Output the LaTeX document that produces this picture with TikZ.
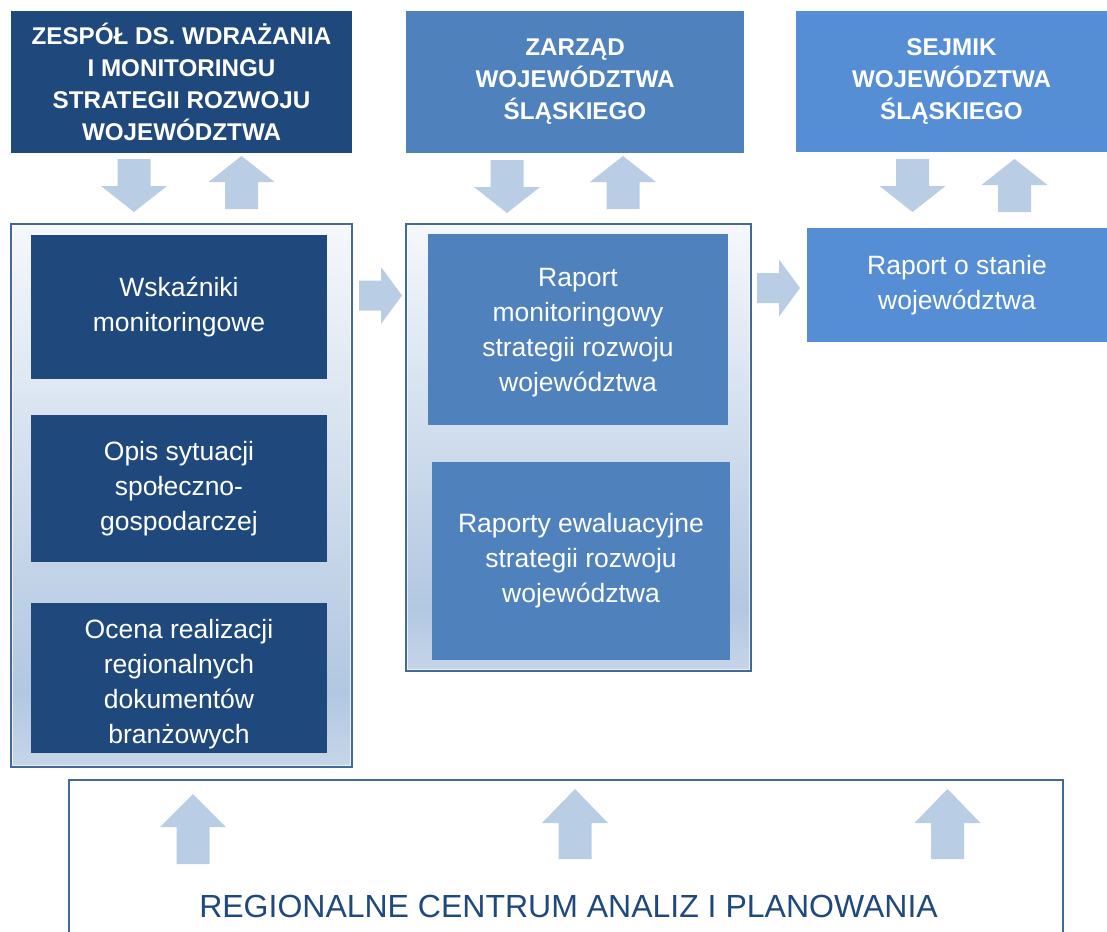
\documentclass[tikz,border=0pt]{standalone}
\usepackage{fontspec}
\setmainfont{Liberation Sans}
\usetikzlibrary{calc}
\definecolor{navy}{HTML}{1F497D}
\definecolor{midblue}{HTML}{4F81BD}
\definecolor{brightblue}{HTML}{558ED5}
\definecolor{arrowc}{HTML}{B9CDE5}
\definecolor{framec}{HTML}{43699A}
\definecolor{shT}{HTML}{F5F8FC}
\definecolor{shM}{HTML}{B2C7E1}
\definecolor{shB}{HTML}{C6D6EA}
\pgfdeclareverticalshading{contshade}{100bp}{color(0bp)=(shB); color(25bp)=(shB); color(32bp)=(shM); color(75bp)=(shT); color(100bp)=(shT)}
\newcommand\blkdown[4]{\fill[arrowc] (#1-16.5,#2) -- (#1+16.5,#2) -- (#1+16.5,#3) -- (#1+33,#3) -- (#1,#4) -- (#1-33,#3) -- (#1-16.5,#3) -- cycle;}
\newcommand\blkup[4]{\fill[arrowc] (#1,#2) -- (#1+33,#3) -- (#1+16.5,#3) -- (#1+16.5,#4) -- (#1-16.5,#4) -- (#1-16.5,#3) -- (#1-33,#3) -- cycle;}
\newcommand\blkright[4]{\fill[arrowc] (#2,#1-15) -- (#3,#1-15) -- (#3,#1-28.5) -- (#4,#1) -- (#3,#1+28.5) -- (#3,#1+15) -- (#2,#1+15) -- cycle;}
\tikzset{
  box/.style={rectangle, inner sep=0pt, align=center, text=white},
  hdr/.style={box, font=\fontsize{24.2}{32}\selectfont\bfseries},
  body/.style={box, font=\fontsize{26.5}{35}\selectfont},
  container/.style={rectangle, inner sep=0pt, draw=framec, line width=2.5pt, shading=contshade},
}
\begin{document}
\begin{tikzpicture}[x=1pt,y=-1pt]
\useasboundingbox[fill=white] (0,0) rectangle (1107,931);
% header boxes
\node[hdr, fill=navy, minimum width=341pt, minimum height=142pt] (zesp) at (181.5,82) {ZESPÓŁ DS. WDRAŻANIA\\I MONITORINGU\\STRATEGII ROZWOJU\\WOJEWÓDZTWA};
\node[hdr, fill=midblue, minimum width=338pt, minimum height=142pt] (zarz) at (575,82) {ZARZĄD\\WOJEWÓDZTWA\\ŚLĄSKIEGO};
\node[hdr, fill=brightblue, minimum width=311pt, minimum height=141pt] (sejm) at (951.5,81.5) {SEJMIK\\WOJEWÓDZTWA\\ŚLĄSKIEGO};
% containers
\node[container, minimum width=341pt, minimum height=543pt] (contL) at (181.5,495.5) {};
\node[container, minimum width=345pt, minimum height=447pt] (contM) at (578.5,447.5) {};
\draw[white, opacity=0.7, line width=1pt] ($(contL.north west)+(2.5,2.5)$) rectangle ($(contL.south east)+(-2.5,-2.5)$);
\draw[white, opacity=0.7, line width=1pt] ($(contM.north west)+(2.5,2.5)$) rectangle ($(contM.south east)+(-2.5,-2.5)$);
% inner boxes
\node[body, fill=navy, minimum width=296pt, minimum height=144pt] (wsk) at (179,307) {Wskaźniki\\monitoringowe};
\node[body, fill=navy, minimum width=296pt, minimum height=147pt] (opis) at (179,488.5) {Opis sytuacji\\społeczno-\\gospodarczej};
\node[body, fill=navy, minimum width=296pt, minimum height=150pt] (ocena) at (179,678) {\rule{0pt}{31pt}Ocena realizacji\\regionalnych\\dokumentów\\branżowych};
\node[body, fill=midblue, minimum width=300pt, minimum height=191pt] (rmon) at (578,329.5) {\rule{0pt}{24pt}Raport\\monitoringowy\\strategii rozwoju\\województwa};
\node[body, fill=midblue, minimum width=298pt, minimum height=198pt] (rew) at (581,561) {Raporty ewaluacyjne\\strategii rozwoju\\województwa};
\node[body, fill=brightblue, minimum width=300pt, minimum height=114pt] (rstan) at (957,285) {Raport o stanie\\województwa};
% block arrows
\blkdown{134}{159}{186}{212}
\blkup{241.5}{156}{182}{209}
\blkdown{507}{160}{187}{213}
\blkup{623}{156}{182}{209}
\blkdown{912.5}{159}{186}{212}
\blkup{1014.5}{159}{185}{212}
\blkright{295.5}{359}{381}{402}
\blkright{288}{757}{779}{800}
% bottom box
\draw[framec, line width=2.5pt] (69,935) -- (69,780) -- (1063,780) -- (1063,935);
\blkup{193}{794}{827}{864}
\blkup{575}{789}{823}{859}
\blkup{947.5}{789}{823}{859}
\node[anchor=base, text=navy, inner sep=0pt, font=\fontsize{32}{36}\selectfont] (rcap) at (568.5,917) {REGIONALNE CENTRUM ANALIZ I PLANOWANIA};
\end{tikzpicture}
\end{document}
